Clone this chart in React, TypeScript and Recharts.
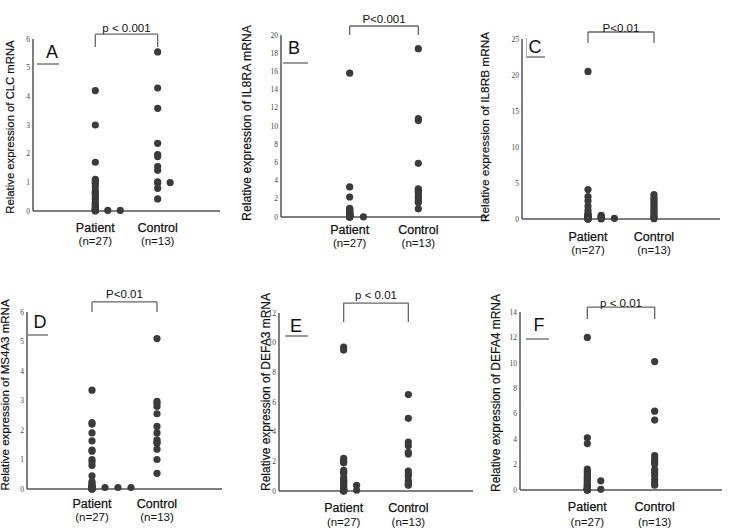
import React from 'react';
import { ScatterChart, Scatter, XAxis, YAxis, ReferenceLine } from 'recharts';

// ---------- data ----------
const categories = ['Patient', 'Control'];
const groupSizes = ['(n=27)', '(n=13)'];
// each group = columns of values; column 0 sits on the group, later columns are side-stacked dots
const COL_STEP = 0.2;

const clcPatient = [[4.2, 3.0, 1.7, 1.1, 1.05, 1.0, 0.95, 0.85, 0.7, 0.65, 0.6, 0.55, 0.45, 0.4, 0.3, 0.25, 0.2, 0.15, 0.1, 0.08, 0.05, 0.03, 0.02, 0.01, 0.0], [0.02], [0.02]];
const clcControl = [[5.55, 4.29, 3.58, 2.36, 1.97, 1.9, 1.55, 1.42, 1.02, 0.98, 0.79, 0.42], [0.99]];

const il8raPatient = [[15.8, 3.3, 2.2, 0.95, 0.85, 0.75, 0.65, 0.55, 0.5, 0.45, 0.4, 0.35, 0.3, 0.25, 0.2, 0.15, 0.12, 0.1, 0.08, 0.06, 0.05, 0.04, 0.03, 0.02, 0.01, 0.0], [0.02]];
const il8raControl = [[18.5, 10.8, 10.6, 5.9, 3.1, 3.0, 2.8, 2.6, 2.3, 2.1, 1.8, 1.6, 0.9]];

const il8rbPatient = [[20.5, 4.1, 3.1, 2.5, 1.8, 1.2, 0.8, 0.6, 0.5, 0.4, 0.3, 0.25, 0.2, 0.15, 0.1, 0.08, 0.05, 0.03, 0.02, 0.01, 0.0], [0.5, 0.35, 0.2, 0.1, 0.0], [0.1]];
const il8rbControl = [[3.4, 3.0, 2.7, 2.4, 2.1, 1.8, 1.5, 1.2, 0.9, 0.6, 0.4, 0.2, 0.05]];

const ms4a3Patient = [[3.35, 2.25, 2.2, 1.9, 1.63, 1.32, 1.28, 1.0, 0.92, 0.8, 0.45, 0.25, 0.18, 0.14, 0.1, 0.07, 0.05, 0.03, 0.02, 0.01, 0.0, 0.0, 0.0, 0.0], [0.05], [0.05], [0.05]];
const ms4a3Control = [[5.1, 2.97, 2.9, 2.8, 2.55, 2.12, 1.9, 1.67, 1.6, 1.55, 1.35, 1.0, 0.53]];

const defa3Patient = [[9.7, 9.5, 2.2, 2.1, 1.95, 1.9, 1.4, 1.3, 1.2, 0.9, 0.76, 0.65, 0.6, 0.5, 0.4, 0.3, 0.2, 0.15, 0.1, 0.05, 0.03, 0.02, 0.01, 0.0, 0.0], [0.38, 0.05]];
const defa3Control = [[6.5, 4.9, 3.3, 3.05, 2.6, 2.5, 1.35, 1.15, 1.0, 0.7, 0.55, 0.45, 0.38]];

const defa4Patient = [[12.0, 4.1, 3.65, 1.65, 1.5, 1.35, 1.2, 1.0, 0.95, 0.8, 0.7, 0.55, 0.45, 0.35, 0.25, 0.2, 0.15, 0.1, 0.05, 0.03, 0.02, 0.01, 0.0, 0.0, 0.0], [0.72, 0.05]];
const defa4Control = [[10.1, 6.2, 5.5, 2.7, 2.45, 2.25, 2.05, 1.6, 1.4, 1.15, 0.82, 0.56, 0.38]];

const ticksA = [0, 1, 2, 3, 4, 5, 6];
const ticksB = [0, 2, 4, 6, 8, 10, 12, 14, 16, 18, 20];
const ticksC = [0, 5, 10, 15, 20, 25];
const ticksD = [0, 1, 2, 3, 4, 5, 6];
const ticksE = [0, 2, 4, 6, 8, 10, 12];
const ticksF = [0, 2, 4, 6, 8, 10, 12, 14];

// bracket levels [top, end of legs] in data units
const bracketA = [6.17, 5.72];
const bracketB = [20.99, 20.0];
const bracketC = [25.97, 24.44];
const bracketD = [6.34, 6.0];
const bracketE = [12.67, 11.4];
const bracketF = [14.39, 13.45];

const pA = 'p < 0.001';
const pB = 'P<0.001';
const pC = 'P<0.01';
const pD = 'P<0.01';
const pE = 'p < 0.01';
const pF = 'p < 0.01';

// ---------- helpers ----------
const FONT = '"Liberation Sans", Arial, Helvetica, sans-serif';
const SERIF = '"Liberation Serif", "Times New Roman", serif';

function toPoints(groups: number[][][]) {
  return groups.flatMap((cols, g) =>
    cols.flatMap((col, c) => col.map((v) => ({ x: g + 1 + c * COL_STEP, y: v })))
  );
}

const Dot = (props: any) => {
  if (props.cx == null || props.cy == null) return null;
  return <circle cx={props.cx} cy={props.cy} r={3.6} fill="#3b3b3b" />;
};

type PanelCfg = {
  box: [number, number, number, number];
  plot: [number, number, number, number];
  yTicks: number[];
  groups: number[][][];
  bracket: number[];
  p: string;
  pOffset: number;
  title: string;
  titleCenter: [number, number];
  titleSize: number;
  letter: string;
  letterCenter: [number, number];
  underline: [number, number, number];
  labelOffs: [number, number];
  boxLeft?: boolean;
};

const panels: PanelCfg[] = [
  { box: [0, 0, 242, 260], plot: [33, 220, 39, 211], yTicks: ticksA, groups: [clcPatient, clcControl], bracket: bracketA, p: pA, pOffset: 2,
    title: 'Relative expression of CLC mRNA', titleCenter: [11, 127], titleSize: 11.3, letter: 'A', letterCenter: [52, 52], underline: [37, 59, 64], labelOffs: [17, 30] },
  { box: [240, 0, 252, 260], plot: [281, 487, 35, 217], yTicks: ticksB, groups: [il8raPatient, il8raControl], bracket: bracketB, p: pB, pOffset: 3,
    title: 'Relative expression of IL8RA mRNA', titleCenter: [247, 123], titleSize: 12.2, letter: 'B', letterCenter: [294, 48], underline: [283, 308, 63], labelOffs: [13, 26] },
  { box: [478, 0, 254, 260], plot: [522, 720, 39, 219], yTicks: ticksC, groups: [il8rbPatient, il8rbControl], bracket: bracketC, p: pC, pOffset: 0,
    title: 'Relative expression of IL8RB mRNA', titleCenter: [486, 127], titleSize: 11.8, letter: 'C', letterCenter: [535, 47], underline: [526, 545, 57], labelOffs: [18, 31], boxLeft: true },
  { box: [0, 260, 242, 272], plot: [27, 222, 312, 489], yTicks: ticksD, groups: [ms4a3Patient, ms4a3Control], bracket: bracketD, p: pD, pOffset: 4,
    title: 'Relative expression of MS4A3 mRNA', titleCenter: [6, 395], titleSize: 11.5, letter: 'D', letterCenter: [40, 322], underline: [28, 48, 335], labelOffs: [15, 28] },
  { box: [240, 260, 242, 272], plot: [279, 473, 313, 491], yTicks: ticksE, groups: [defa3Patient, defa3Control], bracket: bracketE, p: pE, pOffset: 4,
    title: 'Relative expression of DEFA3 mRNA', titleCenter: [266, 392], titleSize: 12, letter: 'E', letterCenter: [296, 326], underline: [285, 308, 336], labelOffs: [17, 31] },
  { box: [480, 260, 252, 272], plot: [520, 722, 312, 490], yTicks: ticksF, groups: [defa4Patient, defa4Control], bracket: bracketF, p: pF, pOffset: 0,
    title: 'Relative expression of DEFA4 mRNA', titleCenter: [496, 393], titleSize: 12, letter: 'F', letterCenter: [539, 325], underline: [526, 549, 339], labelOffs: [17, 32] },
];

const YAW = 16;
const XAH = 40;
const AXIS = '#555';
const BR = '#666';
const INK = '#111';

function Panel({ cfg }: { cfg: PanelCfg }) {
  const [L, T, W, H] = cfg.box;
  const [x0, x1, y0, y1] = cfg.plot;
  const margin = { left: x0 - L - YAW, top: y0 - T, right: L + W - x1, bottom: T + H - y1 - XAH };
  const data = toPoints(cfg.groups);
  const yMax = cfg.yTicks[cfg.yTicks.length - 1];
  const [bTop, bEnd] = cfg.bracket;
  const CatTick = (props: any) => {
    const { x, y, payload } = props;
    const i = Math.round(payload.value) - 1;
    return (
      <g>
        <text x={x} y={y + cfg.labelOffs[0]} textAnchor="middle" dominantBaseline="central" fontSize={12.5} fontFamily={FONT} fill={INK} stroke={INK} strokeWidth={0.25}>
          {categories[i]}
        </text>
        <text x={x} y={y + cfg.labelOffs[1]} textAnchor="middle" dominantBaseline="central" fontSize={11.5} fontFamily={FONT} fill={INK}>
          {groupSizes[i]}
        </text>
      </g>
    );
  };
  return (
    <div style={{ position: 'absolute', left: L, top: T, width: W, height: H }}>
      <ScatterChart width={W} height={H} margin={margin}>
        <XAxis
          type="number"
          dataKey="x"
          domain={[0, 3]}
          ticks={[1, 2]}
          height={XAH}
          tickLine={false}
          tickSize={0}
          tickMargin={0}
          axisLine={{ stroke: AXIS, strokeWidth: 1.5 }}
          tick={CatTick}
        />
        <YAxis
          type="number"
          dataKey="y"
          domain={[0, yMax]}
          ticks={cfg.yTicks}
          width={YAW}
          tickLine={false}
          tickSize={0}
          tickMargin={3}
          axisLine={{ stroke: AXIS, strokeWidth: 1.5 }}
          tick={{ fontSize: 7.5, fontFamily: SERIF, fill: '#444' }}
        />
        <ReferenceLine
          segment={[{ x: 1, y: bTop }, { x: 2, y: bTop }]}
          stroke={BR}
          strokeWidth={1.3}
          ifOverflow="visible"
          label={{ value: cfg.p, position: 'top', offset: cfg.pOffset, fontSize: 11.5, fontFamily: FONT, fill: INK }}
        />
        <ReferenceLine segment={[{ x: 1, y: bTop }, { x: 1, y: bEnd }]} stroke={BR} strokeWidth={1.3} ifOverflow="visible" />
        <ReferenceLine segment={[{ x: 2, y: bTop }, { x: 2, y: bEnd }]} stroke={BR} strokeWidth={1.3} ifOverflow="visible" />
        <Scatter data={data} shape={Dot} isAnimationActive={false} />
      </ScatterChart>
    </div>
  );
}

function Overlay({ cfg }: { cfg: PanelCfg }) {
  const [ux0, ux1, uy] = cfg.underline;
  return (
    <>
      <div
        style={{
          position: 'absolute',
          left: cfg.titleCenter[0],
          top: cfg.titleCenter[1],
          transform: 'translate(-50%, -50%) rotate(-90deg)',
          whiteSpace: 'nowrap',
          fontFamily: FONT,
          fontSize: cfg.titleSize,
          color: INK,
          lineHeight: 1,
          WebkitTextStroke: '0.2px #111',
        }}
      >
        {cfg.title}
      </div>
      <div
        style={{
          position: 'absolute',
          left: cfg.letterCenter[0],
          top: cfg.letterCenter[1],
          transform: 'translate(-50%, -50%)',
          fontFamily: FONT,
          fontSize: 18,
          color: '#111',
          lineHeight: 1,
        }}
      >
        {cfg.letter}
      </div>
      <div style={{ position: 'absolute', left: ux0, top: uy - 1, width: ux1 - ux0, height: 0, borderTop: '2px solid #9a9a9a' }} />
      {cfg.boxLeft ? (
        <div style={{ position: 'absolute', left: ux0, top: uy - 19, width: 0, height: 19, borderLeft: '1.5px solid #b0b0b0' }} />
      ) : null}
    </>
  );
}

export default function App() {
  return (
    <div style={{ position: 'absolute', left: 0, top: 0, width: 732, height: 532, background: '#fff', overflow: 'hidden' }}>
      {panels.map((p, i) => (
        <Panel key={'p' + i} cfg={p} />
      ))}
      {panels.map((p, i) => (
        <Overlay key={'o' + i} cfg={p} />
      ))}
    </div>
  );
}
